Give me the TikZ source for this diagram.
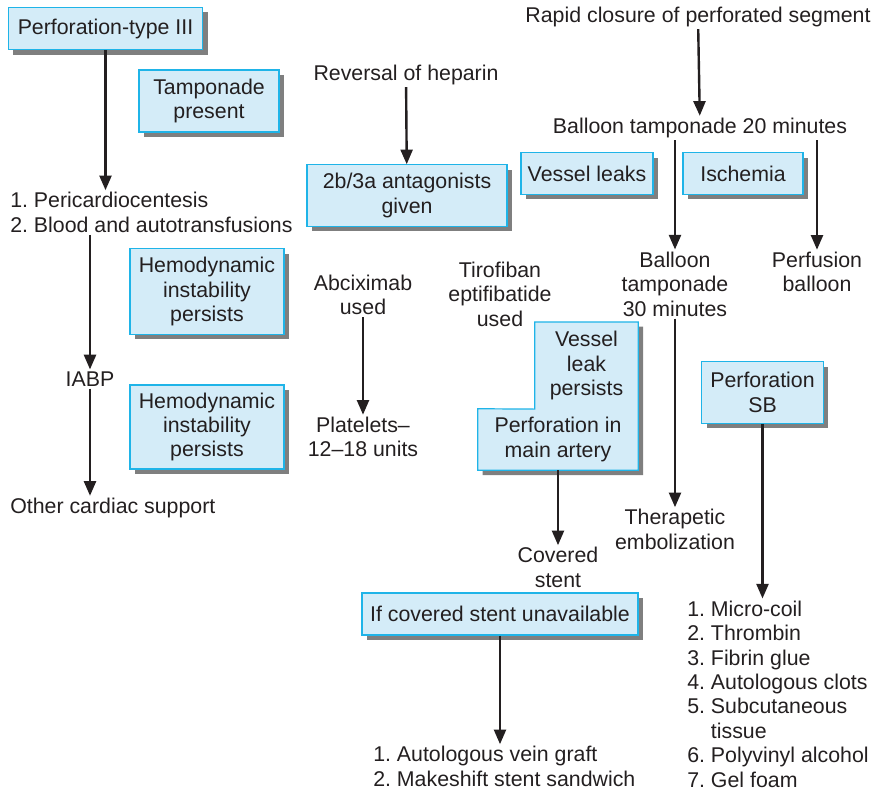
\documentclass[tikz,border=0pt]{standalone}
\usepackage{fontspec}
\setmainfont{Liberation Sans}
\usepackage{xcolor}
\usepackage{tikz}
\usetikzlibrary{arrows.meta,positioning,calc,shadows,backgrounds}
\frenchspacing
\definecolor{ink}{HTML}{231F20}
\definecolor{boxfill}{HTML}{D4ECF8}
\definecolor{boxline}{HTML}{1FB4E8}
\definecolor{shade}{HTML}{7F7F7F}
\tikzset{
  infobox/.style={draw=boxline, line width=0.9pt, fill=boxfill, align=center,
                  inner sep=0pt, text=ink,
                  drop shadow={fill=shade, opacity=1, shadow xshift=3.6pt, shadow yshift=-3.6pt}},
  txt/.style={align=center, inner sep=1.5pt, text=ink},
  lst/.style={align=left, inner sep=1.5pt, text=ink, anchor=west},
  ar/.style={-{Triangle[length=11pt,width=9pt]}, line width=1.8pt, draw=ink},
}
\begin{document}
\begin{tikzpicture}[x=0.75pt, y=-0.75pt, font=\fontsize{16}{18.3}\selectfont]
  \useasboundingbox (0,0) rectangle (879,790);

  % --- left column: tamponade branch ---
  \node[infobox, minimum width=146pt, minimum height=32pt] (ptype) at (105.5,28.5) {Perforation-type III};
  \node[infobox, minimum width=105pt, minimum height=46.5pt] (tamp) at (209,101) {Tamponade\\present};
  \node[lst] (peri) at (8,212.5) {1. Pericardiocentesis\\2. Blood and autotransfusions};
  \node[infobox, minimum width=115.5pt, minimum height=64pt] (hemoa) at (207,291.5) {Hemodynamic\\instability\\persists};
  \node[txt] (iabp) at (90,379) {IABP};
  \node[infobox, minimum width=115.5pt, minimum height=63pt] (hemob) at (207,427) {Hemodynamic\\instability\\persists};
  \node[lst] (other) at (8,508) {Other cardiac support};

  \draw[ar] (ptype) -- (ptype |- peri.north);
  \draw[ar] (peri.south -| iabp) -- (iabp);
  \draw[ar] (iabp) -- (iabp |- other.north);

  % --- middle: anticoagulation ---
  \node[txt] (heparin) at (406,75) {Reversal of heparin};
  \node[infobox, minimum width=150pt, minimum height=46pt] (antag) at (407,195.5) {2b/3a antagonists\\given};
  \node[txt] (abcix) at (363,295) {Abciximab\\used};
  \node[txt] (platel) at (363,437) {Platelets--\\12--18 units};
  \node[txt] (tirof) at (500,294) {Tirofiban\\eptifibatide\\used};

  \draw[ar] (heparin) -- (antag);
  \draw[ar] (abcix) -- (platel);

  % --- right: balloon tamponade ---
  \node[txt] (rapid) at (698,17) {Rapid closure of perforated segment};
  \node[txt] (bal20) at (700,128) {Balloon tamponade 20 minutes};
  \node[infobox, minimum width=99pt, minimum height=31pt] (leaks) at (587,173.5) {Vessel leaks};
  \node[infobox, minimum width=90pt, minimum height=31pt] (isch) at (743,173.5) {Ischemia};
  \node[txt] (bal30) at (675,284) {Balloon\\tamponade\\30 minutes};
  \node[txt] (perfus) at (817,272) {Perfusion\\balloon};
  \node[txt] (embol) at (675,529.5) {Therapetic\\embolization};

  \draw[ar] (rapid) -- (bal20);
  \draw[ar] (bal30 |- bal20.south) -- (bal30);
  \draw[ar] (perfus |- bal20.south) -- (perfus);
  \draw[ar] (bal30) -- (embol);

  % --- L-shaped box: leak persists / main artery ---
  \node[txt, inner sep=0pt, minimum width=77.25pt, minimum height=65pt] (persist) at (586.5,365.5) {Vessel\\leak\\persists};
  \node[txt, inner sep=0pt, minimum width=120pt, minimum height=45.75pt] (mainart) at (558,439.5) {Perforation in\\main artery};
  \begin{scope}[on background layer]
    \path[draw=boxline, line width=0.9pt, fill=boxfill,
          drop shadow={fill=shade, opacity=1, shadow xshift=3.6pt, shadow yshift=-3.6pt}]
      (persist.north west) -- (persist.north east) -- (mainart.south east)
      -- (mainart.south west) -- (mainart.north west) -- (persist.south west) -- cycle;
  \end{scope}
  \node[txt] (covered) at (558,567.5) {Covered\\stent};
  \draw[ar] (mainart) -- (covered);

  \node[infobox, minimum width=207pt, minimum height=31.5pt] (nostent) at (500,614) {If covered stent unavailable};
  \node[lst] (graft) at (371,766.5) {1. Autologous vein graft\\2. Makeshift stent sandwich};
  \draw[ar] (nostent) -- (nostent |- graft.north);

  % --- side branch ---
  \node[infobox, minimum width=91pt, minimum height=46pt] (sb) at (762.5,392.5) {Perforation\\SB};
  \node[lst] (coil) at (685,694) {1. Micro-coil\\2. Thrombin\\3. Fibrin glue\\4. Autologous clots\\
        5. Subcutaneous\\\phantom{5. }tissue\\6. Polyvinyl alcohol\\7. Gel foam};
  \draw[ar] (sb) -- (sb |- coil.north);
\end{tikzpicture}
\end{document}
